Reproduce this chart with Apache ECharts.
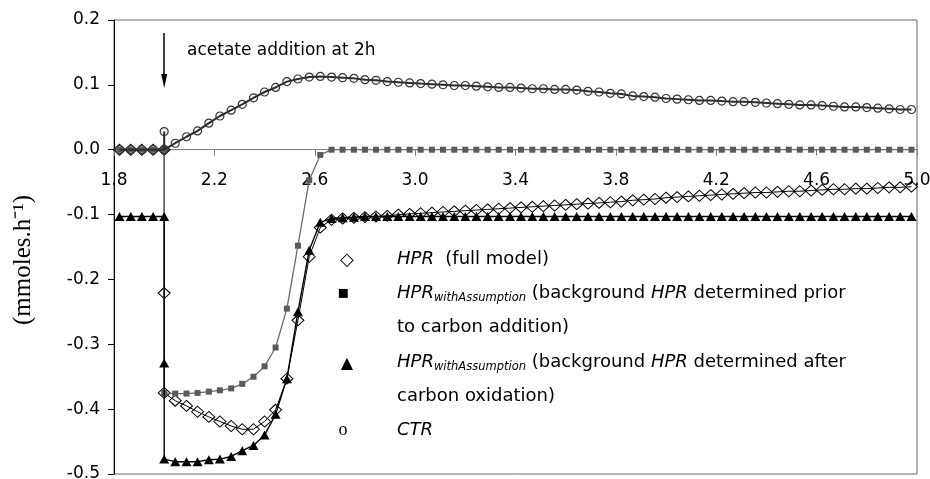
<!DOCTYPE html>
<html>
<head>
<meta charset="utf-8">
<script src="https://cdn.jsdelivr.net/npm/echarts@6/dist/echarts.min.js"></script>
<style>
html,body{margin:0;padding:0;background:#fff;}
#chart{width:930px;height:479px;}
</style>
</head>
<body>
<div id="chart"></div>
<script>
// ---- data (time in h, rates in mmoles/h) ----
const preTime = [1.822, 1.867, 1.911, 1.956];
const stepTime = 2.0;
const postTime = [2.044, 2.089, 2.133, 2.178, 2.222, 2.267, 2.311, 2.356, 2.4, 2.444, 2.489, 2.533, 2.578, 2.622, 2.667, 2.711, 2.756, 2.8, 2.844, 2.889, 2.933, 2.978, 3.022, 3.067, 3.111, 3.156, 3.2, 3.244, 3.289, 3.333, 3.378, 3.422, 3.467, 3.511, 3.556, 3.6, 3.644, 3.689, 3.733, 3.778, 3.822, 3.867, 3.911, 3.956, 4.0, 4.044, 4.089, 4.133, 4.178, 4.222, 4.267, 4.311, 4.356, 4.4, 4.444, 4.489, 4.533, 4.578, 4.622, 4.667, 4.711, 4.756, 4.8, 4.844, 4.889, 4.933, 4.978];

const hprPre = [0, 0, 0, 0];
const hprStep = [0, -0.221, -0.375];
const hprPost = [-0.387, -0.395, -0.404, -0.412, -0.419, -0.426, -0.431, -0.431, -0.419, -0.401, -0.353, -0.263, -0.165, -0.120, -0.108, -0.106, -0.105, -0.104, -0.103, -0.102, -0.100, -0.099, -0.098, -0.097, -0.096, -0.095, -0.094, -0.093, -0.092, -0.091, -0.090, -0.089, -0.088, -0.087, -0.086, -0.085, -0.084, -0.083, -0.082, -0.081, -0.080, -0.078, -0.077, -0.076, -0.074, -0.073, -0.072, -0.071, -0.070, -0.069, -0.068, -0.067, -0.066, -0.066, -0.065, -0.064, -0.064, -0.063, -0.062, -0.061, -0.061, -0.060, -0.060, -0.059, -0.058, -0.058, -0.057];

const priorPre = [0, 0, 0, 0];
const priorStep = [0, -0.375];
const priorPost = [-0.376, -0.376, -0.375, -0.373, -0.371, -0.368, -0.361, -0.350, -0.334, -0.305, -0.245, -0.148, -0.047, -0.008, 0, 0, 0, 0, 0, 0, 0, 0, 0, 0, 0, 0, 0, 0, 0, 0, 0, 0, 0, 0, 0, 0, 0, 0, 0, 0, 0, 0, 0, 0, 0, 0, 0, 0, 0, 0, 0, 0, 0, 0, 0, 0, 0, 0, 0, 0, 0, 0, 0, 0, 0, 0, 0];

const afterPre = [-0.103, -0.103, -0.103, -0.103];
const afterStep = [-0.103, -0.329, -0.477];
const afterPost = [-0.481, -0.481, -0.481, -0.478, -0.477, -0.473, -0.464, -0.456, -0.440, -0.408, -0.353, -0.250, -0.155, -0.112, -0.106, -0.105, -0.104, -0.103, -0.103, -0.103, -0.103, -0.103, -0.103, -0.103, -0.103, -0.103, -0.103, -0.103, -0.103, -0.103, -0.103, -0.103, -0.103, -0.103, -0.103, -0.103, -0.103, -0.103, -0.103, -0.103, -0.103, -0.103, -0.103, -0.103, -0.103, -0.103, -0.103, -0.103, -0.103, -0.103, -0.103, -0.103, -0.103, -0.103, -0.103, -0.103, -0.103, -0.103, -0.103, -0.103, -0.103, -0.103, -0.103, -0.103, -0.103, -0.103, -0.103];

const ctrPre = [0, 0, 0, 0];
const ctrStep = [0, 0.028, 0];
const ctrPost = [0.010, 0.020, 0.029, 0.041, 0.052, 0.061, 0.070, 0.080, 0.089, 0.096, 0.105, 0.109, 0.112, 0.113, 0.112, 0.111, 0.110, 0.108, 0.107, 0.105, 0.104, 0.103, 0.102, 0.101, 0.100, 0.099, 0.099, 0.098, 0.097, 0.096, 0.096, 0.095, 0.094, 0.094, 0.093, 0.093, 0.092, 0.090, 0.089, 0.087, 0.086, 0.083, 0.082, 0.081, 0.079, 0.078, 0.077, 0.076, 0.076, 0.075, 0.074, 0.074, 0.073, 0.072, 0.071, 0.070, 0.069, 0.069, 0.068, 0.067, 0.066, 0.066, 0.065, 0.064, 0.063, 0.062, 0.062];

const xTickMin = 1.8, xTickMax = 5.0, xTickStep = 0.4;
const yTickMin = -0.5, yTickMax = 0.2, yTickStep = 0.1;
const xAxisCrossesAt = 0;

const arrowFrom = [2.0, 0.180];
const arrowTo = [2.0, 0.106];

// ---- build ----
function build(pre, step, post) {
  return preTime.map((t, i) => [t, pre[i]])
    .concat(step.map(v => [stepTime, v]))
    .concat(postTime.map((t, i) => [t, post[i]]));
}

const SANS = '"DejaVu Sans", sans-serif';
const SERIF = '"Liberation Serif", "Times New Roman", serif';

const chart = echarts.init(document.getElementById('chart'), null, {renderer: 'canvas'});

const legendRich = {
  n: {fontFamily: SANS, fontSize: 18, lineHeight: 22, color: '#000'},
  i: {fontFamily: SANS, fontSize: 18, lineHeight: 22, fontStyle: 'italic', color: '#000'},
  s: {fontFamily: SANS, fontSize: 11.5, lineHeight: 22, fontStyle: 'italic', verticalAlign: 'bottom', color: '#000'}
};

function legendLine(y, txt) {
  return {
    type: 'text', x: 397, y: y, silent: true,
    style: {text: txt, rich: legendRich, align: 'left', verticalAlign: 'middle', fill: '#000', font: '18px ' + SANS}
  };
}
function legendGlyph(x, y, ch, font) {
  return {
    type: 'text', x: x, y: y, silent: true,
    style: {text: ch, align: 'center', verticalAlign: 'middle', fill: '#000', font: font}
  };
}

const option = {
  animation: false,
  backgroundColor: '#fff',
  grid: {left: 114, right: 13, top: 20, bottom: 5, show: true, borderColor: '#666', borderWidth: 1, containLabel: false, outerBoundsMode: 'none'},
  xAxis: {
    type: 'value', min: xTickMin, max: xTickMax, interval: xTickStep,
    position: 'bottom', offset: 0,
    axisLine: {show: true, onZero: false, lineStyle: {color: '#808080', width: 1}},
    axisTick: {show: true, inside: false, length: 6, lineStyle: {color: '#808080'}},
    axisLabel: {show: true, margin: 22, color: '#000', fontFamily: SANS, fontSize: 17, formatter: v => v.toFixed(1)},
    splitLine: {show: false}
  },
  yAxis: {
    type: 'value', min: yTickMin, max: yTickMax, interval: yTickStep,
    name: '(mmoles.h\u207B\u00B9)', nameLocation: 'middle', nameGap: 78, nameRotate: 90,
    nameTextStyle: {fontFamily: SERIF, fontSize: 25, color: '#000', padding: [0, 26, 0, 0]},
    axisLine: {show: true, onZero: false, lineStyle: {color: '#000', width: 1}},
    axisTick: {show: true, inside: false, length: 6, lineStyle: {color: '#000'}},
    axisLabel: {margin: 14, color: '#000', fontFamily: SANS, fontSize: 17, formatter: v => v.toFixed(1)},
    splitLine: {show: false}
  },
  series: [
    {
      name: 'HPR (full model)', type: 'line', data: build(hprPre, hprStep, hprPost),
      symbol: 'diamond', symbolSize: [12, 11], showAllSymbol: true,
      itemStyle: {color: 'rgba(0,0,0,0)', borderColor: '#000', borderWidth: 1},
      lineStyle: {color: '#000', width: 1}, z: 2
    },
    {
      name: 'HPR withAssumption (prior)', type: 'line', data: build(priorPre, priorStep, priorPost),
      symbol: 'rect', symbolSize: 6, showAllSymbol: true,
      itemStyle: {color: '#5a5a5a'},
      lineStyle: {color: '#6a6a6a', width: 1.3}, z: 3
    },
    {
      name: 'HPR withAssumption (after)', type: 'line', data: build(afterPre, afterStep, afterPost),
      symbol: 'triangle', symbolSize: [10, 9], showAllSymbol: true,
      itemStyle: {color: '#000'},
      lineStyle: {color: '#000', width: 1.4}, z: 4
    },
    {
      name: 'CTR', type: 'line', data: build(ctrPre, ctrStep, ctrPost),
      symbol: 'circle', symbolSize: 8, showAllSymbol: true,
      itemStyle: {color: 'rgba(0,0,0,0)', borderColor: '#333', borderWidth: 1.2},
      lineStyle: {color: '#2b2b2b', width: 2}, z: 5,
      markLine: {
        silent: true, animation: false,
        symbol: ['none', 'triangle'], symbolSize: [6, 14],
        lineStyle: {color: '#000', width: 1.5, type: 'solid'},
        label: {show: false},
        data: [[{coord: arrowFrom}, {coord: arrowTo}]]
      }
    }
  ],
  graphic: [
    {type: 'text', x: 187, y: 51, silent: true,
     style: {text: 'acetate addition at 2h', align: 'left', verticalAlign: 'middle', fill: '#000', font: '17px ' + SANS}},
    legendGlyph(347, 260, '\u25C7', '18px ' + SANS),
    legendGlyph(343, 293, '\u25AA', '18px ' + SANS),
    legendGlyph(347, 364, '\u25B2', '16px ' + SANS),
    legendGlyph(343, 430, 'o', '18px ' + SERIF),
    legendLine(259, '{i|HPR}{n|  (full model)}'),
    legendLine(293, '{i|HPR}{s|withAssumption}{n| (background }{i|HPR}{n| determined prior}'),
    legendLine(327, '{n|to carbon addition)}'),
    legendLine(362, '{i|HPR}{s|withAssumption}{n| (background }{i|HPR}{n| determined after}'),
    legendLine(396, '{n|carbon oxidation)}'),
    legendLine(430, '{i|CTR}')
  ]
};
chart.setOption(option);

// move the x axis (line, ticks, labels) up so that it crosses the y axis at 0
const yZeroPx = chart.convertToPixel({yAxisIndex: 0}, xAxisCrossesAt);
const yBottomPx = chart.convertToPixel({yAxisIndex: 0}, yTickMin);
chart.setOption({xAxis: {offset: -(yBottomPx - yZeroPx)}});
</script>
</body>
</html>
